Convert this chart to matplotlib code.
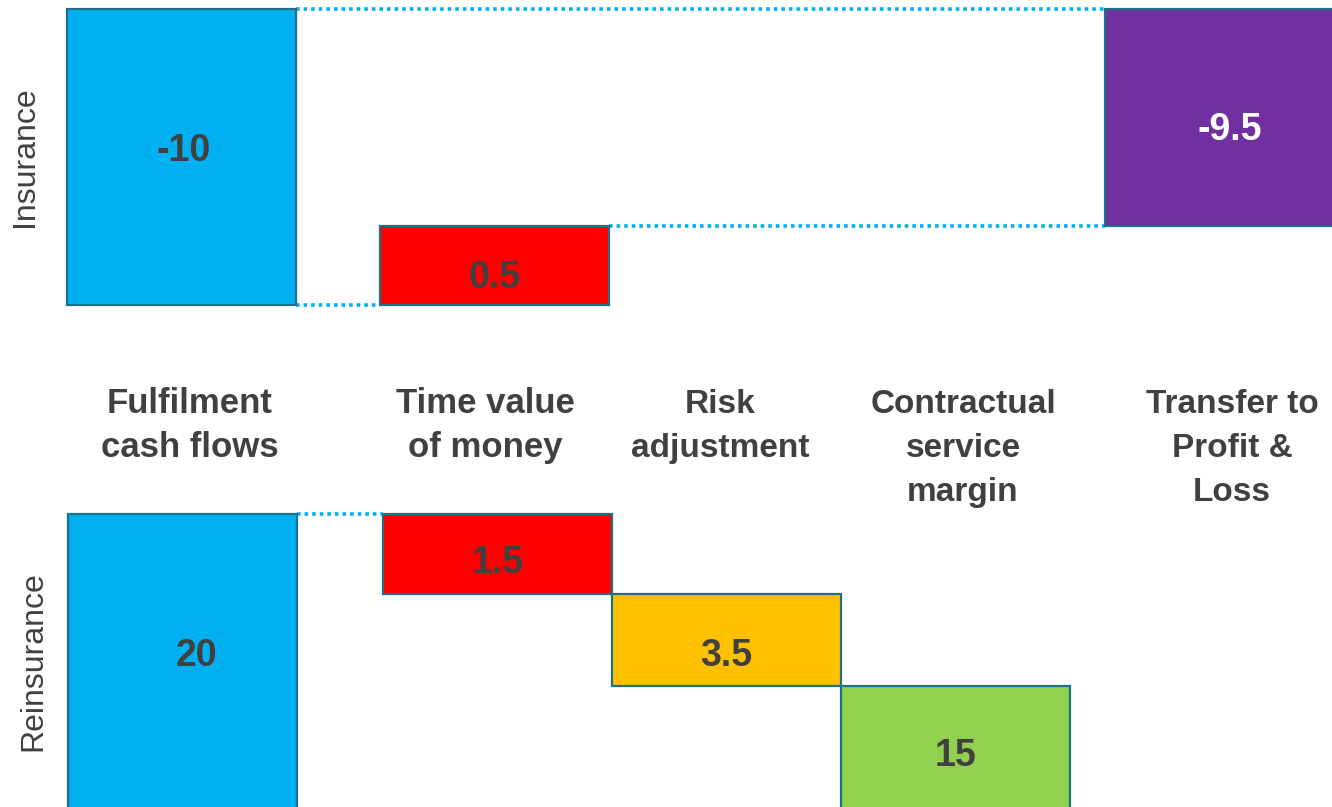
import matplotlib.pyplot as plt
from matplotlib import font_manager

# values shown on the bars
categories = ["Fulfilment\ncash flows", "Time value\nof money", "Risk\nadjustment",
              "Contractual\nservice\nmargin", "Transfer to\nProfit &\nLoss"]
ins_labels = ["-10", "0.5", "-9.5"]
ins_cols = [0, 1, 4]
re_labels = ["20", "1.5", "3.5", "15"]
re_cols = [0, 1, 2, 3]

# bar lengths as drawn (the picture is not to scale with the labels)
ins_steps = [-10.0, 2.67]          # fulfilment, time value; transfer closes the gap
re_steps = [-2.7, -3.1, -4.3]      # time value, risk, CSM; fulfilment is their total

colors = ["#00B0F0", "#FF0000", "#FFC000", "#92D050", "#7030A0"]
edge = "#1F6F8B"
dot = "#00B0F0"
txt = "#404040"

W, H = 1332, 807
PX = 29.6  # pixels per drawn unit

names = {f.name for f in font_manager.fontManager.ttflist}
narrow = "Liberation Sans Narrow" if "Liberation Sans Narrow" in names else None
plt.rcParams['font.family'] = ['Liberation Sans', 'DejaVu Sans']

fig = plt.figure(figsize=(W / 100, H / 100), dpi=100)

# column layout in pixels
left_top = [67, 380, 612, 841, 1105]
left_bot = [68, 383, 612, 841, 1105]
width = 229


def make_ax(top_px, bot_px, zero_px):
    ax = fig.add_axes([0, 1 - bot_px / H, 1, (bot_px - top_px) / H])
    ax.set_xlim(0, W)
    ax.set_ylim(-(bot_px - zero_px) / PX, (zero_px - top_px) / PX)
    ax.axis('off')
    return ax


def bar(ax, x, lo, hi, col):
    ax.bar(x, hi - lo, bottom=lo, width=width, align='edge', color=col,
           edgecolor=edge, linewidth=1.6, zorder=2)


def link(ax, x0, x1, y):
    ax.plot([x0, x1], [y, y], color=dot, lw=2.6, ls=(0, (1, 1.1)), zorder=1)


# ---- insurance panel
ax1 = make_ax(0, 330, 9)
run = 0.0
ins_spans = []
for s in ins_steps:
    ins_spans.append((min(run, run + s), max(run, run + s)))
    run += s
ins_spans.append((min(run, 0), max(run, 0)))
for c, (lo, hi) in zip(ins_cols, ins_spans):
    bar(ax1, left_top[c], lo, hi, colors[c])
link(ax1, left_top[0] + width, left_top[4], 0)
link(ax1, left_top[0] + width, left_top[1], ins_spans[0][0])
link(ax1, left_top[1] + width, left_top[4], ins_spans[1][1])

ins_off = [(2, 6), (0, -13), (10, -13)]
for c, (lo, hi), lab, (dx, dy) in zip(ins_cols, ins_spans, ins_labels, ins_off):
    ax1.annotate(lab, (left_top[c] + width / 2, (lo + hi) / 2), xytext=(dx, dy),
                 textcoords='offset pixels', ha='center', va='center',
                 fontsize=27, fontweight='bold',
                 color='white' if c == 4 else txt)

# ---- reinsurance panel
ax2 = make_ax(495, H, 514)
run = 0.0
re_spans = []
for s in re_steps:
    re_spans.append((min(run, run + s), max(run, run + s)))
    run += s
re_spans = [(min(run, 0), max(run, 0))] + re_spans
for c, (lo, hi) in zip(re_cols, re_spans):
    bar(ax2, left_bot[c], lo, hi, colors[c])
link(ax2, left_bot[0] + width, left_bot[1], 0)

vis_lo = ax2.get_ylim()[0]
re_off = [(14, 4), (0, -9), (0, -16), (0, -10)]
for c, (lo, hi), lab, (dx, dy) in zip(re_cols, re_spans, re_labels, re_off):
    yc = (max(lo, vis_lo) + hi) / 2
    ax2.annotate(lab, (left_bot[c] + width / 2, yc), xytext=(dx, dy),
                 textcoords='offset pixels', ha='center', va='center',
                 fontsize=27, fontweight='bold', color=txt)

# ---- category labels between the panels
centers = [190, 485, 720, 963, 1232]
for i, (name, cx) in enumerate(zip(categories, centers)):
    fam, size = 'Liberation Sans', 25
    if i >= 2:
        fam, size = (narrow, 27) if narrow else ('Liberation Sans', 24)
    for k, line in enumerate(name.split("\n")):
        fig.text(cx / W, 1 - (413 + 44 * k) / H, line, ha='center', va='baseline',
                 fontsize=size, fontweight='bold', color=txt, family=fam)

fig.text(25 / W, 1 - 157 / H, "Insurance", rotation=90, ha='center', va='center',
         fontsize=23, color=txt)
fig.text(33 / W, 1 - 661 / H, "Reinsurance", rotation=90, ha='center', va='center',
         fontsize=23, color=txt)

fig.savefig("out.png", dpi=100)
